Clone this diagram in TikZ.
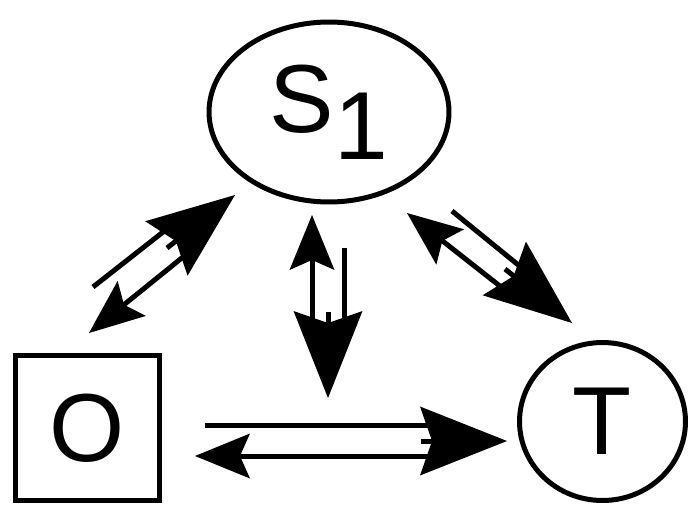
\documentclass[tikz,border=0pt]{standalone}
\usepackage{fontspec}
\setmainfont{Liberation Sans}
\usepackage{tikz}
\usetikzlibrary{shapes,positioning}
\usetikzlibrary{calc}
\usetikzlibrary{arrows.meta}
\tikzset{
	etat/.style={draw,line width=0.1cm,inner sep=0pt,font=\fontsize{55}{60}\selectfont},
	trait/.style={line width=0.1cm},
	grande/.style={line width=0.1cm,-{Stealth[length=1.74cm,width=1.38cm,inset=0.24cm,line width=0pt]}},
	petite/.style={line width=0.1cm,-{Stealth[length=1.1cm,width=0.9cm,inset=0.2cm,line width=0pt]}}
}

\begin{document}
\begin{tikzpicture}[x=0.02cm,y=-0.02cm]
	
	\useasboundingbox (0,0) rectangle (689,507);
	
	%Etats
	\node[etat,ellipse,minimum width=4.8cm,minimum height=3.6cm] (S) at (329,112) {S\raisebox{-0.54cm}{1}};
	\node[etat,rectangle,minimum width=2.88cm,minimum height=2.9cm] (O) at (87.5,428) {O};
	\node[etat,ellipse,minimum width=3.32cm,minimum height=3.16cm] (T) at (602.5,421.5) {T};
	
	%O -- S
	\coordinate (OSa) at (93,287);
	\coordinate (OSb) at (172,225);
	\coordinate (OSq) at (167,248);
	\coordinate (OSp) at (235,195);
	\coordinate (SOa) at (183,257);
	\coordinate (SOb) at (89,333);
	%S -- bas
	\coordinate (SBa) at (344,248);
	\coordinate (SBb) at (344,340);
	\coordinate (SBq) at (328,312);
	\coordinate (SBp) at (328,398);
	\coordinate (BSa) at (312,330);
	\coordinate (BSb) at (312,215);
	%S -- T
	\coordinate (STa) at (452,211);
	\coordinate (STb) at (522,268);
	\coordinate (STq) at (505,269);
	\coordinate (STp) at (572,323);
	\coordinate (TSa) at (510,294);
	\coordinate (TSb) at (407,213);
	%O -- T
	\coordinate (OTa) at (205,425);
	\coordinate (OTb) at (452,425);
	\coordinate (OTq) at (421,441);
	\coordinate (OTp) at (507,441);
	\coordinate (TOa) at (440,456);
	\coordinate (TOb) at (195,456);
	
	%Fleches
	\foreach \a in {OS,SB,ST,OT} {
		\draw[trait] (\a a) -- (\a b);
		\draw[grande] (\a q) -- (\a p);
	}
	\foreach \a in {SO,BS,TS,TO} {
		\draw[petite] (\a a) -- (\a b);
	}
	
\end{tikzpicture}
\end{document}
